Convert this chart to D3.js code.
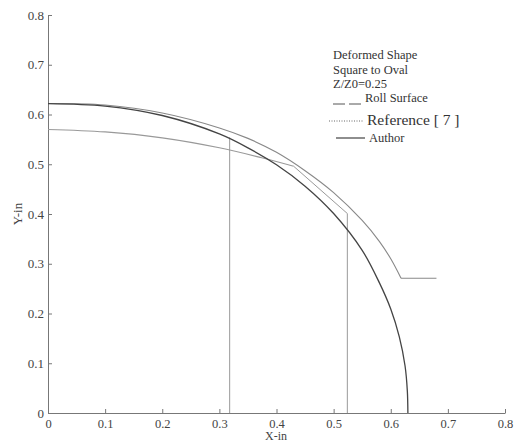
<!DOCTYPE html>
<html>
<head>
<meta charset="utf-8">
<script src="https://cdn.jsdelivr.net/npm/d3@7"></script>
<style>
  body { margin: 0; background: #fff; }
  text { font-family: "Liberation Serif", "DejaVu Serif", serif; }
</style>
</head>
<body>
<svg id="chart" width="515" height="443"></svg>
<script>
// values (inches)
var xTicks = [0, 0.1, 0.2, 0.3, 0.4, 0.5, 0.6, 0.7, 0.8];
var yTicks = [0, 0.1, 0.2, 0.3, 0.4, 0.5, 0.6, 0.7, 0.8];

var authorPts = [[0, 0.622], [0.1, 0.617], [0.2, 0.598], [0.3, 0.561], [0.35, 0.533],
  [0.4, 0.499], [0.45, 0.456], [0.5, 0.401], [0.55, 0.327], [0.58, 0.262], [0.6, 0.209],
  [0.615, 0.153], [0.625, 0.095], [0.629, 0.045], [0.63, 0]];

var rollPts = [[0, 0.622], [0.1, 0.619], [0.2, 0.603], [0.3, 0.573], [0.35, 0.552],
  [0.4, 0.524], [0.45, 0.487], [0.5, 0.443], [0.55, 0.387], [0.58, 0.345], [0.6, 0.31],
  [0.618, 0.271]];
var rollFlat = [[0.618, 0.271], [0.68, 0.271]];

var refPts = [[0, 0.57], [0.1, 0.565], [0.2, 0.553], [0.3, 0.533], [0.374, 0.513], [0.43, 0.496]];
var refEdge = [[0.43, 0.496], [0.524, 0.401], [0.524, 0]];
var cutLine = [[0.318, 0.554], [0.318, 0]];

var legendNotes = ["Deformed Shape", "Square to Oval", "Z/Z0=0.25"];

var svg = d3.select("#chart");

var x = d3.scaleLinear().domain([0, 0.8]).range([48, 505]);
var y = d3.scaleLinear().domain([0, 0.8]).range([413, 15]);

var line = d3.line()
  .x(function(d) { return x(d[0]); })
  .y(function(d) { return y(d[1]); });
var smooth = d3.line()
  .x(function(d) { return x(d[0]); })
  .y(function(d) { return y(d[1]); })
  .curve(d3.curveCatmullRom.alpha(0.5));

// axes
var fmt = function(d) { return d === 0 ? "0" : d3.format(".1f")(d); };
var xAxis = d3.axisBottom(x).tickValues(xTicks).tickSizeInner(-4).tickSizeOuter(0).tickFormat(fmt);
var yAxis = d3.axisLeft(y).tickValues(yTicks).tickSizeInner(-4).tickSizeOuter(0).tickFormat(fmt);

var gx = svg.append("g").attr("transform", "translate(0," + y(0) + ")").call(xAxis);
gx.select(".domain").attr("stroke", "#777");
gx.selectAll(".tick line").attr("stroke", "#777");
gx.selectAll("text").attr("fill", "#444").style("font-size", "12.5px").attr("y", 14.5).attr("dy", "0");

var gy = svg.append("g").attr("transform", "translate(" + x(0) + ",0)").call(yAxis);
gy.select(".domain").attr("stroke", "#777");
gy.selectAll(".tick line").attr("stroke", "#777");
gy.selectAll("text").attr("fill", "#444").style("font-size", "13px").attr("x", -4);

svg.append("text")
  .attr("x", 276).attr("y", 440)
  .attr("text-anchor", "middle")
  .style("font-size", "12px").attr("fill", "#444")
  .text("X-in");

svg.append("text")
  .attr("transform", "translate(22,214) rotate(-90)")
  .attr("text-anchor", "middle")
  .style("font-size", "13px").attr("fill", "#444")
  .text("Y-in");

// curves
svg.append("path").datum(cutLine).attr("d", line)
  .attr("fill", "none").attr("stroke", "#999").attr("stroke-width", 1);
svg.append("path").datum(refPts).attr("d", smooth)
  .attr("fill", "none").attr("stroke", "#999").attr("stroke-width", 1.1);
svg.append("path").datum(refEdge).attr("d", line)
  .attr("fill", "none").attr("stroke", "#999").attr("stroke-width", 1);
svg.append("path").datum(rollPts).attr("d", smooth)
  .attr("fill", "none").attr("stroke", "#888").attr("stroke-width", 1.1);
svg.append("path").datum(rollFlat).attr("d", line)
  .attr("fill", "none").attr("stroke", "#888").attr("stroke-width", 1.1);
svg.append("path").datum(authorPts).attr("d", smooth)
  .attr("fill", "none").attr("stroke", "#444").attr("stroke-width", 1.3);

// legend
var lg = svg.append("g");
lg.selectAll(".note")
  .data(legendNotes)
  .enter().append("text")
  .attr("class", "note")
  .attr("x", 333)
  .attr("y", function(d, i) { return 59 + i * 14.5; })
  .style("font-size", "12.5px").attr("fill", "#333")
  .text(function(d) { return d; });

lg.append("line").attr("x1", 333).attr("x2", 362).attr("y1", 104).attr("y2", 104)
  .attr("stroke", "#555").attr("stroke-dasharray", "12,4");
lg.append("text").attr("x", 365).attr("y", 102)
  .style("font-size", "12.5px").attr("fill", "#333").text("Roll Surface");

lg.append("line").attr("x1", 329).attr("x2", 363).attr("y1", 121).attr("y2", 121)
  .attr("stroke", "#666").attr("stroke-dasharray", "1,1.5");
lg.append("text").attr("x", 367).attr("y", 125)
  .style("font-size", "15.5px").attr("fill", "#333").text("Reference [ 7 ]");

lg.append("line").attr("x1", 336).attr("x2", 365).attr("y1", 138).attr("y2", 138)
  .attr("stroke", "#444").attr("stroke-width", 1.2);
lg.append("text").attr("x", 369).attr("y", 142)
  .style("font-size", "12.5px").attr("fill", "#333").text("Author");
</script>
</body>
</html>
